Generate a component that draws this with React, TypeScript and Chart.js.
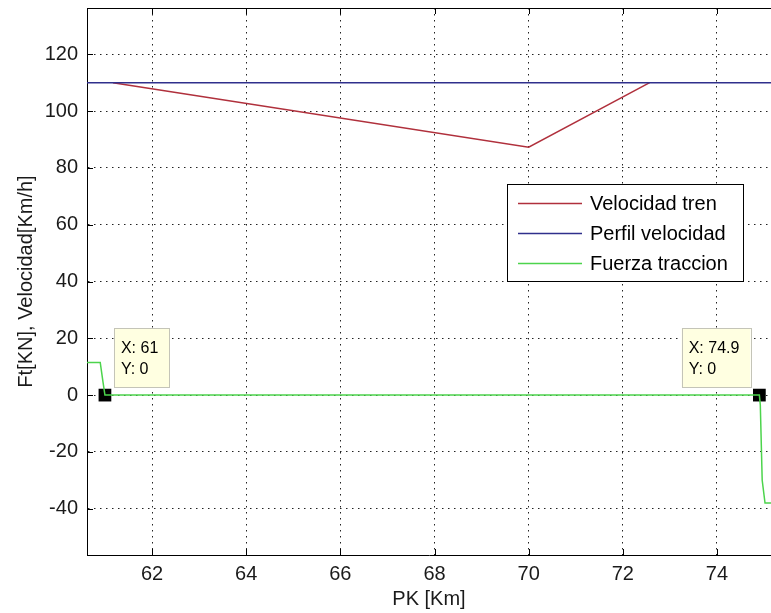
import React, { useEffect, useRef } from 'react';
import { Chart, registerables } from 'chart.js';

Chart.register(...registerables);

// ---- data ----
const velocidadX = [61.17, 70.0, 72.57];
const velocidadY = [110, 87.3, 110];
const perfilX = [60.5, 75.5];
const perfilY = [110, 110];
const fuerzaX = [60.5, 60.9, 60.96, 61.0, 74.9, 74.92, 74.96, 75.02, 75.5];
const fuerzaY = [11.5, 11.5, 4.5, 0, 0, -3.5, -30, -38, -38];
const markerX = [61, 74.9];
const markerY = [0, 0];
const xTicks = [62, 64, 66, 68, 70, 72, 74];
const yTicks = [-40, -20, 0, 20, 40, 60, 80, 100, 120];
const seriesLabels = ['Velocidad tren', 'Perfil velocidad', 'Fuerza traccion'];
const seriesColors = ['#b0303c', '#30308c', '#4cd44c'];

const FONT = '"Liberation Sans", Arial, sans-serif';

const toPts = (xs: number[], ys: number[]) => xs.map((x, i) => ({ x, y: ys[i] }));

const decorPlugin = {
  id: 'decor',
  afterDraw(chart: any) {
    const { ctx, chartArea, scales } = chart;
    const { left, right, top, bottom } = chartArea;
    const xs = scales.x;
    const ys = scales.y;
    ctx.save();
    // top border
    ctx.strokeStyle = '#000';
    ctx.lineWidth = 1;
    ctx.setLineDash([]);
    ctx.beginPath();
    ctx.moveTo(left, top + 0.5);
    ctx.lineTo(right, top + 0.5);
    ctx.stroke();
    // inward ticks
    const tl = 6;
    ctx.beginPath();
    xs.ticks.forEach((t: any) => {
      const px = Math.round(xs.getPixelForValue(t.value)) + 0.5;
      ctx.moveTo(px, bottom);
      ctx.lineTo(px, bottom - tl);
      ctx.moveTo(px, top);
      ctx.lineTo(px, top + tl);
    });
    ys.ticks.forEach((t: any) => {
      const py = Math.round(ys.getPixelForValue(t.value)) + 0.5;
      ctx.moveTo(left, py);
      ctx.lineTo(left + tl, py);
    });
    ctx.stroke();

    // legend
    const lx0 = 507, ly0 = 184, lw = 236, lh = 97;
    ctx.fillStyle = '#fff';
    ctx.fillRect(lx0, ly0, lw, lh);
    ctx.strokeStyle = '#000';
    ctx.strokeRect(lx0 + 0.5, ly0 + 0.5, lw, lh);
    ctx.font = `20px ${FONT}`;
    ctx.textBaseline = 'alphabetic';
    ctx.textAlign = 'left';
    seriesLabels.forEach((lab, i) => {
      const cy = ly0 + 19 + i * 30;
      ctx.strokeStyle = seriesColors[i];
      ctx.lineWidth = 1.5;
      ctx.beginPath();
      ctx.moveTo(lx0 + 11, cy + 0.5);
      ctx.lineTo(lx0 + 75, cy + 0.5);
      ctx.stroke();
      ctx.fillStyle = '#000';
      ctx.fillText(lab, lx0 + 83, cy + 7);
    });

    // data tips
    ctx.font = `16px ${FONT}`;
    markerX.forEach((mx, i) => {
      const px = xs.getPixelForValue(mx);
      const py = ys.getPixelForValue(markerY[i]);
      const l1 = `X: ${mx}`;
      const l2 = `Y: ${markerY[i]}`;
      const w = Math.max(ctx.measureText(l1).width, ctx.measureText(l2).width) + 18;
      const h = 59;
      const bx = i === 0 ? px + 9 : px - 9 - w;
      const by = py - 8 - h;
      ctx.fillStyle = '#ffffe1';
      ctx.fillRect(bx, by, w, h);
      ctx.strokeStyle = '#c4c4b8';
      ctx.lineWidth = 1;
      ctx.strokeRect(Math.round(bx) + 0.5, Math.round(by) + 0.5, Math.round(w), h);
      ctx.fillStyle = '#000';
      ctx.fillText(l1, bx + 7, by + 25);
      ctx.fillText(l2, bx + 7, by + 46);
    });
    ctx.restore();
  },
};

export default function App() {
  const ref = useRef<HTMLCanvasElement | null>(null);
  useEffect(() => {
    if (!ref.current) return;
    const tickFont = { family: FONT, size: 20 };
    const chart = new Chart(ref.current, {
      type: 'line',
      data: {
        datasets: [
          {
            label: seriesLabels[1],
            data: toPts(perfilX, perfilY),
            borderColor: seriesColors[1],
            borderWidth: 1.5,
            pointRadius: 0,
            fill: false,
          },
          {
            label: seriesLabels[0],
            data: toPts(velocidadX, velocidadY),
            borderColor: seriesColors[0],
            borderWidth: 1.5,
            pointRadius: 0,
            fill: false,
          },
          {
            label: seriesLabels[2],
            data: toPts(fuerzaX, fuerzaY),
            borderColor: seriesColors[2],
            borderWidth: 1.5,
            pointRadius: 0,
            fill: false,
          },
          {
            label: 'markers',
            data: toPts(markerX, markerY),
            showLine: false,
            pointStyle: 'rect',
            pointRadius: 9,
            pointBackgroundColor: '#000',
            pointBorderColor: '#000',
            pointBorderWidth: 0,
          },
        ],
      } as any,
      options: {
        animation: false,
        responsive: false,
        maintainAspectRatio: false,
        devicePixelRatio: 1,
        layout: { autoPadding: false, padding: { top: 8, left: 0, right: 0, bottom: 0 } },
        plugins: { legend: { display: false }, tooltip: { enabled: false } },
        scales: {
          x: {
            type: 'linear',
            min: 60.619,
            max: 75.147,
            afterBuildTicks: (s: any) => {
              s.ticks = xTicks.map((v) => ({ value: v }));
            },
            afterFit: (s: any) => {
              s.height = 58;
              s.paddingLeft = 0;
              s.paddingRight = 0;
              s.paddingTop = 0;
              s.paddingBottom = 0;
            },
            grid: { color: '#222', drawTicks: false, lineWidth: 1 },
            border: { display: true, color: '#000', width: 1, dash: [1.5, 4.5] },
            ticks: { padding: 7, font: tickFont, color: '#1a1a1a', maxRotation: 0 },
            title: {
              display: true,
              text: 'PK [Km]',
              font: tickFont,
              color: '#1a1a1a',
              padding: { top: 0, bottom: 2 },
            },
          },
          y: {
            type: 'linear',
            min: -56.3,
            max: 136.3,
            afterBuildTicks: (s: any) => {
              s.ticks = yTicks.map((v) => ({ value: v }));
            },
            afterFit: (s: any) => {
              s.width = 87;
              s.paddingLeft = 0;
              s.paddingRight = 0;
              s.paddingTop = 0;
              s.paddingBottom = 0;
            },
            grid: { color: '#222', drawTicks: false, lineWidth: 1 },
            border: { display: true, color: '#000', width: 1, dash: [1.5, 4.5] },
            ticks: { padding: 9, font: tickFont, color: '#1a1a1a' },
            title: {
              display: true,
              text: 'Ft[KN], Velocidad[Km/h]',
              font: tickFont,
              color: '#1a1a1a',
              padding: { top: 14, bottom: 0 },
            },
          },
        },
      } as any,
      plugins: [decorPlugin],
    });
    return () => chart.destroy();
  }, []);
  return (
    <div style={{ position: 'absolute', left: 0, top: 0, width: 771, height: 613, background: '#fff' }}>
      <canvas ref={ref} width={771} height={613} style={{ display: 'block' }} />
    </div>
  );
}
